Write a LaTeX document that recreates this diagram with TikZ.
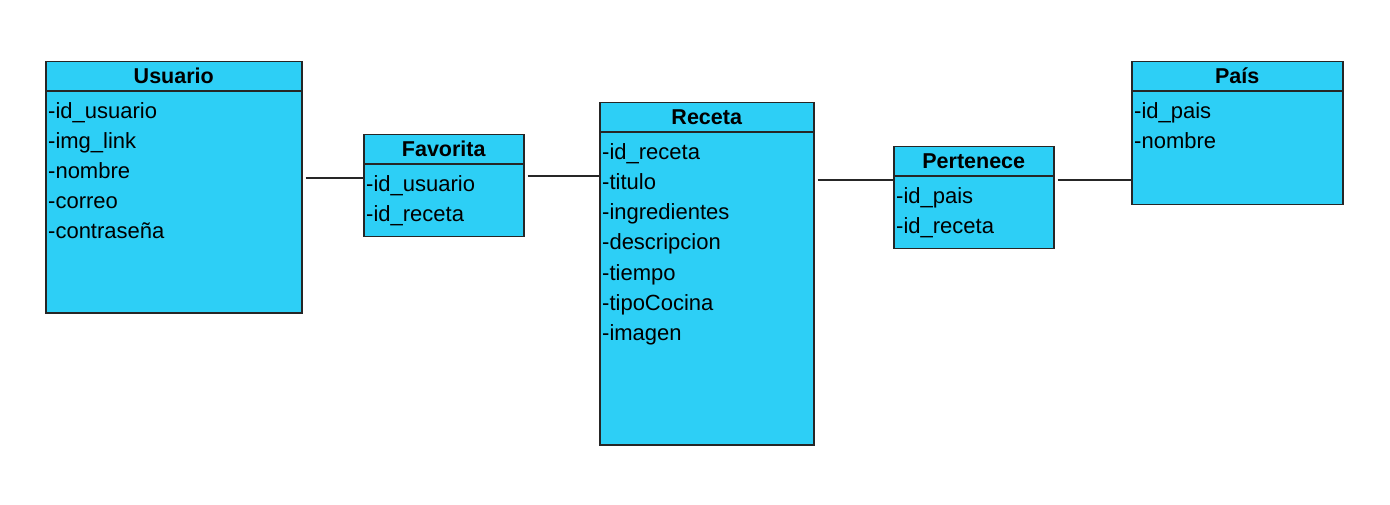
\documentclass[tikz,border=0pt]{standalone}
\usepackage{fontspec}
\setmainfont{Liberation Sans}
\definecolor{celeste}{RGB}{45,207,246}
\tikzset{
	clase/.style={draw=black!85,fill=celeste,line width=1.5pt,anchor=north west,inner sep=0pt},
	cabecera/.style={anchor=base,inner sep=0pt,font=\fontsize{21.5}{25}\selectfont\bfseries},
	atributo/.style={anchor=base west,inner sep=0pt,font=\fontsize{22}{26}\selectfont},
	enlace/.style={line width=1.5pt,draw=black!85,shorten <=3pt}
}

\begin{document}
\begin{tikzpicture}[x=1pt,y=-1pt]
	\useasboundingbox (0,0) rectangle (1390,505);
	
	%Tablas
	\node[clase,minimum width=256pt,minimum height=251pt] (usuario) at (45,61) {};
	\node[clase,minimum width=160pt,minimum height=102pt] (favorita) at (363,134) {};
	\node[clase,minimum width=214pt,minimum height=342pt] (receta) at (599,102) {};
	\node[clase,minimum width=160pt,minimum height=102pt] (pertenece) at (893,146) {};
	\node[clase,minimum width=211pt,minimum height=143pt] (pais) at (1131,61) {};
	
	%Cabeceras
	\foreach \t/\n in {usuario/Usuario,favorita/Favorita,receta/Receta,pertenece/Pertenece,pais/País}
	{
	\draw[line width=1.5pt,black!85] ([yshift=-30pt]\t.north west) -- ([yshift=-30pt]\t.north east);
	\node[cabecera] (\t-nombre) at ([yshift=-22.5pt]\t.north) {\n};
	}
	
	%Atributos
	\foreach \a [count=\i] in {id\_usuario,img\_link,nombre,correo,contraseña}
	\node[atributo] (usuario-\i) at ([xshift=3pt,yshift=-58pt-30pt*(\i-1)]usuario.north west) {-\a};
	\foreach \a [count=\i] in {id\_usuario,id\_receta}
	\node[atributo] (favorita-\i) at ([xshift=3pt,yshift=-58pt-30pt*(\i-1)]favorita.north west) {-\a};
	\foreach \a [count=\i] in {id\_receta,titulo,ingredientes,descripcion,tiempo,tipoCocina,imagen}
	\node[atributo] (receta-\i) at ([xshift=3pt,yshift=-58pt-30pt*(\i-1)]receta.north west) {-\a};
	\foreach \a [count=\i] in {id\_pais,id\_receta}
	\node[atributo] (pertenece-\i) at ([xshift=3pt,yshift=-58pt-30pt*(\i-1)]pertenece.north west) {-\a};
	\foreach \a [count=\i] in {id\_pais,nombre}
	\node[atributo] (pais-\i) at ([xshift=3pt,yshift=-58pt-30pt*(\i-1)]pais.north west) {-\a};
	
	%Relaciones
	\draw[enlace] (usuario.east |- 0,178) -- (favorita.west |- 0,178);
	\draw[enlace] (favorita.east |- 0,176) -- (receta.west |- 0,176);
	\draw[enlace] (receta.east |- 0,180) -- (pertenece.west |- 0,180);
	\draw[enlace] (pertenece.east |- 0,180) -- (pais.west |- 0,180);
	
\end{tikzpicture}
\end{document}
